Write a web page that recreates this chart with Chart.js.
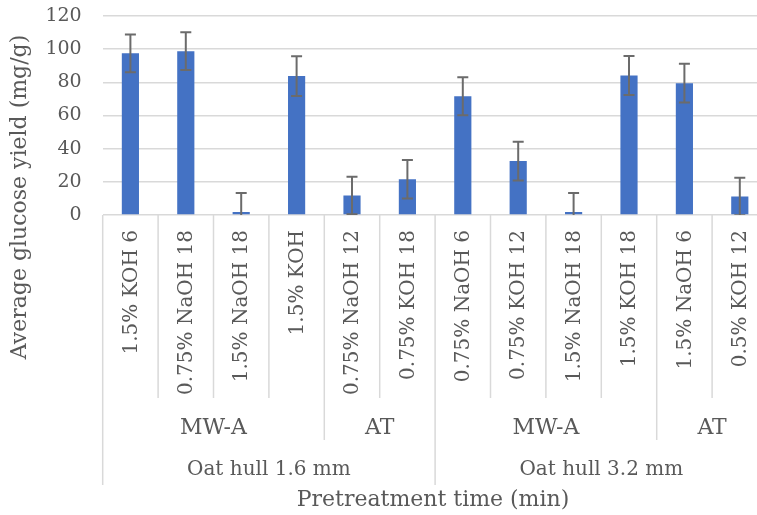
<!DOCTYPE html>
<html>
<head>
<meta charset="utf-8">
<script src="https://cdn.jsdelivr.net/npm/chart.js@4"></script>
<style>
  html, body { margin: 0; padding: 0; background: #fff; overflow: hidden; }
  #wrap { width: 770px; height: 515px; }
</style>
</head>
<body>
<div id="wrap"><canvas id="glucoseChart" width="770" height="515"></canvas></div>
<script>
// Pretreatment conditions (chemical + time in min)
const conditions = [
  '1.5% KOH 6', '0.75% NaOH 18', '1.5% NaOH 18', '1.5% KOH',
  '0.75% NaOH 12', '0.75% KOH 18',
  '0.75% NaOH 6', '0.75% KOH 12', '1.5% NaOH 18', '1.5% KOH 18',
  '1.5% NaOH 6', '0.5% KOH 12'
];
// method groups: [label, number of conditions]
const methods = [['MW-A', 4], ['AT', 2], ['MW-A', 4], ['AT', 2]];
// particle size groups
const sizes = [['Oat hull 1.6 mm', 6], ['Oat hull 3.2 mm', 6]];

const glucoseYield = [97.5, 98.8, 1.8, 83.8, 11.7, 21.5, 71.6, 32.5, 1.8, 84.1, 79.5, 11.1];
const yieldError   = [11.4, 11.4, 11.4, 12.0, 11.3, 11.6, 11.5, 11.7, 11.4, 11.8, 11.7, 11.3];

const yTicks = [0, 20, 40, 60, 80, 100, 120];

const textColor = '#595959';
const lineColor = '#d9d9d9';
const fontFamily = '"DejaVu Serif", serif';

// error bars on top of each bar
const errorBars = {
  id: 'errorBars',
  afterDatasetsDraw(chart) {
    const ctx = chart.ctx;
    const meta = chart.getDatasetMeta(0);
    const y = chart.scales.y;
    const area = chart.chartArea;
    ctx.save();
    ctx.beginPath();
    ctx.rect(area.left, area.top - 5, area.right - area.left, area.bottom - area.top + 5);
    ctx.clip();
    ctx.strokeStyle = '#6b6b6b';
    ctx.lineWidth = 2;
    meta.data.forEach(function (bar, i) {
      const hi = y.getPixelForValue(glucoseYield[i] + yieldError[i]);
      const lo = y.getPixelForValue(glucoseYield[i] - yieldError[i]);
      ctx.beginPath();
      ctx.moveTo(bar.x, hi); ctx.lineTo(bar.x, lo);
      ctx.moveTo(bar.x - 5.5, hi); ctx.lineTo(bar.x + 5.5, hi);
      ctx.moveTo(bar.x - 5.5, lo); ctx.lineTo(bar.x + 5.5, lo);
      ctx.stroke();
    });
    ctx.restore();
  }
};

// y tick labels, grouped category axis and axis titles
const groupedAxis = {
  id: 'groupedAxis',
  afterDraw(chart) {
    const ctx = chart.ctx;
    const area = chart.chartArea;
    const yScale = chart.scales.y;
    const n = conditions.length;
    const step = (area.right - area.left) / n;
    const edge = function (i) { return area.left + i * step; };

    ctx.save();
    ctx.fillStyle = textColor;
    ctx.font = '19px ' + fontFamily;
    ctx.textAlign = 'right';
    ctx.textBaseline = 'middle';
    yTicks.forEach(function (v) {
      ctx.fillText(String(v), area.left - 21, yScale.getPixelForValue(v));
    });

    ctx.strokeStyle = lineColor;
    ctx.lineWidth = 1.5;

    // separators: deepest line wins
    const depth = new Array(n + 1).fill(398);
    let k = 0;
    methods.forEach(function (m) { depth[k] = 440; k += m[1]; depth[k] = 440; });
    k = 0;
    sizes.forEach(function (s) { depth[k] = 485; k += s[1]; depth[k] = 485; });
    for (let i = 0; i <= n; i++) {
      ctx.beginPath();
      ctx.moveTo(edge(i), area.bottom);
      ctx.lineTo(edge(i), depth[i]);
      ctx.stroke();
    }

    // condition labels, rotated
    ctx.font = '20px ' + fontFamily;
    conditions.forEach(function (c, i) {
      ctx.save();
      ctx.translate(edge(i) + step / 2 + 1, 230);
      ctx.rotate(-Math.PI / 2);
      ctx.fillText(c, 0, 0);
      ctx.restore();
    });

    ctx.font = '22px ' + fontFamily;
    ctx.textAlign = 'center';
    k = 0;
    methods.forEach(function (m) {
      ctx.fillText(m[0], (edge(k) + edge(k + m[1])) / 2, 428);
      k += m[1];
    });
    ctx.font = '20px ' + fontFamily;
    k = 0;
    sizes.forEach(function (s) {
      ctx.fillText(s[0], (edge(k) + edge(k + s[1])) / 2, 470);
      k += s[1];
    });

    // axis titles
    ctx.font = '22px ' + fontFamily;
    ctx.fillText('Pretreatment time (min)', 433, 500);
    ctx.save();
    ctx.translate(20, 197);
    ctx.rotate(-Math.PI / 2);
    ctx.fillText('Average glucose yield (mg/g)', 0, 0);
    ctx.restore();
    ctx.restore();
  }
};

const canvas = document.getElementById('glucoseChart');
new Chart(canvas.getContext('2d'), {
  type: 'bar',
  data: {
    labels: conditions,
    datasets: [{
      data: glucoseYield,
      backgroundColor: '#4472c4',
      barPercentage: 0.31,
      categoryPercentage: 1
    }]
  },
  options: {
    responsive: false,
    animation: false,
    events: [],
    layout: { padding: { top: 16, right: 2.5, bottom: 300, left: 0 } },
    plugins: {
      legend: { display: false },
      tooltip: { enabled: false }
    },
    scales: {
      x: {
        ticks: { display: false },
        grid: { display: false, drawTicks: false },
        border: { display: false },
        afterFit(scale) { scale.height = 0; }
      },
      y: {
        min: yTicks[0],
        max: yTicks[yTicks.length - 1],
        afterBuildTicks(scale) { scale.ticks = yTicks.map(v => ({ value: v })); },
        ticks: { display: false },
        grid: { color: lineColor, lineWidth: 1.5, drawTicks: false },
        border: { display: false },
        afterFit(scale) { scale.width = 102.7; }
      }
    }
  },
  plugins: [errorBars, groupedAxis]
});
</script>
</body>
</html>
